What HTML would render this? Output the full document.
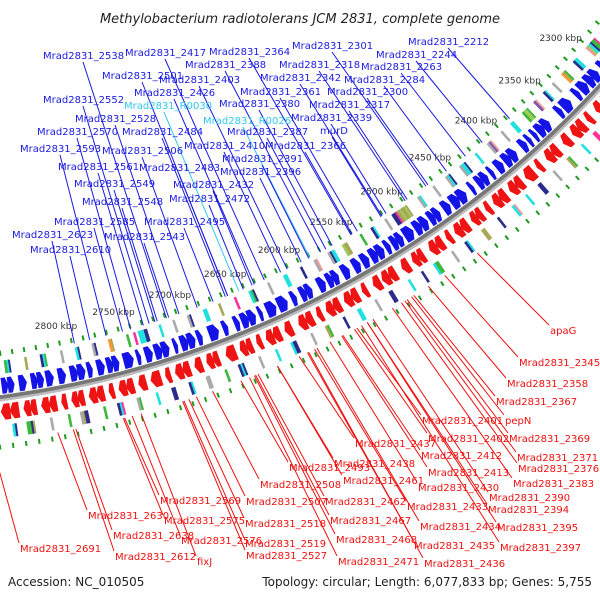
<!DOCTYPE html>
<html><head><meta charset="utf-8"><style>
html,body{margin:0;padding:0;background:#fff;}
svg{display:block;font-family:"DejaVu Sans","Liberation Sans",sans-serif;}
</style></head><body>
<svg id="map" width="600" height="600" viewBox="0 0 600 600">
<text x="300" y="23" text-anchor="middle" font-size="13" font-style="italic" fill="#222">Methylobacterium radiotolerans JCM 2831, complete genome</text>
<g id="rings"></g>
<g id="labels"></g>
<text x="8" y="586" font-size="12" fill="#222">Accession: NC_010505</text>
<text x="592" y="586" text-anchor="end" font-size="12" fill="#222">Topology: circular; Length: 6,077,833 bp; Genes: 5,755</text>
</svg>
<script>
const tickKbp = [2300,2350,2400,2450,2500,2550,2600,2650,2700,2750,2800];
const fwdGenes = [[2272,2282],[2283,2290],[2291,2296],[2300,2312],[2313,2320],[2322,2326],[2332,2340],[2342,2346],[2356,2368],[2370,2373],[2376,2379],[2381,2386],[2392,2404],[2406,2412],[2416,2419],[2422,2432],[2436,2439],[2444,2458],[2460,2466],[2470,2480],[2482,2494],[2496,2504],[2506,2516],[2518,2522],[2524,2536],[2538,2544],[2546,2552],[2556,2562],[2566,2576],[2578,2584],[2590,2600],[2604,2608],[2612,2620],[2622,2630],[2634,2637],[2640,2652],[2654,2658],[2664,2668],[2672,2680],[2686,2690],[2692,2704],[2707,2710],[2714,2726],[2728,2734],[2738,2741],[2744,2752],[2756,2766],[2768,2774],[2778,2782],[2784,2796],[2800,2806],[2810,2816],[2818,2828],[2832,2838],[2842,2852],[2854,2862]];
const revGenes = [[2268,2276],[2280,2292],[2296,2300],[2304,2316],[2318,2324],[2330,2334],[2338,2350],[2354,2360],[2366,2378],[2384,2388],[2392,2400],[2404,2416],[2420,2432],[2436,2440],[2444,2454],[2458,2470],[2474,2478],[2482,2494],[2500,2510],[2514,2520],[2526,2538],[2540,2546],[2552,2556],[2560,2572],[2576,2588],[2592,2596],[2600,2612],[2618,2624],[2628,2640],[2644,2648],[2652,2662],[2666,2674],[2680,2690],[2694,2700],[2704,2716],[2720,2724],[2728,2736],[2740,2746],[2750,2762],[2766,2770],[2774,2786],[2790,2800],[2804,2808],[2812,2824],[2828,2838],[2842,2856]];
const fwdCog = [[2282,"pggnc"],[2290,"ls"],[2304,"ccn"],[2318,"gyo"],[2332,"a"],[2341,"cn"],[2352,"sx"],[2362,"gllg"],[2378,"cc"],[2390,"a"],[2402,"sxa"],[2418,"c"],[2430,"ncca"],[2446,"nca"],[2462,"a"],[2476,"ca"],[2490,"ylyylyy"],[2500,"pnn"],[2510,"a"],[2522,"cn"],[2534,"g"],[2548,"yyl"],[2560,"ccna"],[2576,"sa"],[2590,"n"],[2604,"cc"],[2620,"a"],[2634,"ngc"],[2650,"p"],[2664,"y"],[2676,"cc"],[2690,"na"],[2704,"a"],[2716,"c"],[2728,"nnccc"],[2738,"p"],[2744,"g"],[2758,"yo"],[2772,"na"],[2786,"nc"],[2800,"a"],[2814,"gcn"],[2830,"y"],[2844,"ncg"]];
const revCog = [[2275,"ggg"],[2288,"yl"],[2298,"s"],[2310,"ppa"],[2326,"n"],[2336,"pp"],[2350,"c"],[2364,"gy"],[2380,"a"],[2394,"nn"],[2408,"c"],[2420,"sc"],[2436,"n"],[2450,"yy"],[2466,"cn"],[2480,"a"],[2494,"ggc"],[2508,"n"],[2520,"c"],[2536,"nn"],[2550,"a"],[2564,"cc"],[2578,"n"],[2592,"gy"],[2606,"a"],[2620,"nnc"],[2636,"c"],[2650,"a"],[2664,"ncn"],[2678,"g"],[2692,"aa"],[2706,"cn"],[2720,"nn"],[2734,"c"],[2748,"ga"],[2762,"pcn"],[2776,"g"],[2790,"nnya"],[2804,"g"],[2818,"a"],[2832,"yngg"],[2846,"nc"]];
const blueNames = ["Mrad2831_2538","Mrad2831_2417","Mrad2831_2364","Mrad2831_2301","Mrad2831_2212","Mrad2831_2244","Mrad2831_2388","Mrad2831_2318","Mrad2831_2263","Mrad2831_2501","Mrad2831_2403","Mrad2831_2342","Mrad2831_2284","Mrad2831_2426","Mrad2831_2361","Mrad2831_2300","Mrad2831_2552","Mrad2831_R0030","Mrad2831_2380","Mrad2831_2317","Mrad2831_2528","Mrad2831_R0026","Mrad2831_2339","Mrad2831_2570","Mrad2831_2484","Mrad2831_2387","murD","Mrad2831_2593","Mrad2831_2506","Mrad2831_2410","Mrad2831_2366","Mrad2831_2561","Mrad2831_2483","Mrad2831_2391","Mrad2831_2396","Mrad2831_2549","Mrad2831_2432","Mrad2831_2548","Mrad2831_2472","Mrad2831_2585","Mrad2831_2495","Mrad2831_2623","Mrad2831_2543","Mrad2831_2610"];
const blueKbp = [2709,2622,2541,2467,2378,2408,2570,2488,2426,2655,2601,2511,2446,2631,2535,2465,2724,2645,2559,2486,2698,2580,2507,2740,2657,2565,2512,2761,2682,2607,2540,2729,2655,2581,2588,2719,2633,2717,2641,2747,2668,2788,2707,2775];
const blueX = [43,125,209,292,408,376,185,279,361,102,159,260,344,134,240,327,43,124,219,309,75,203,291,37,122,227,320,20,102,184,265,58,139,222,220,74,173,82,169,54,144,12,104,30];
const blueY = [59,56,55,49,45,58,68,68,70,79,83,81,83,96,95,95,103,109,107,108,122,124,121,135,135,135,134,152,154,149,149,170,171,162,175,187,188,205,202,225,225,238,240,253];
const redNames = ["apaG","Mrad2831_2345","Mrad2831_2358","Mrad2831_2367","Mrad2831_2401","pepN","Mrad2831_2402","Mrad2831_2369","Mrad2831_2437","Mrad2831_2412","Mrad2831_2371","Mrad2831_2438","Mrad2831_2376","Mrad2831_2493","Mrad2831_2413","Mrad2831_2461","Mrad2831_2383","Mrad2831_2508","Mrad2831_2430","Mrad2831_2390","Mrad2831_2569","Mrad2831_2507","Mrad2831_2462","Mrad2831_2433","Mrad2831_2394","Mrad2831_2630","Mrad2831_2575","Mrad2831_2518","Mrad2831_2467","Mrad2831_2434","Mrad2831_2395","Mrad2831_2638","Mrad2831_2576","Mrad2831_2519","Mrad2831_2468","Mrad2831_2435","Mrad2831_2397","Mrad2831_2691","Mrad2831_2612","fixJ","Mrad2831_2527","Mrad2831_2471","Mrad2831_2436"];
const redKbp = [2465,2495,2510,2523,2573,2525,2575,2529,2622,2585,2531,2640,2534,2670,2586,2640,2542,2693,2596,2559,2763,2706,2656,2609,2564,2815,2764,2712,2658,2607,2564,2801,2757,2716,2659,2615,2569,2866,2803,2750,2717,2663,2614];
const redX = [550,519,507,496,422,505,428,509,355,421,517,334,518,289,428,343,513,260,418,489,160,246,325,407,488,88,164,245,330,420,497,113,181,245,336,414,500,20,115,197,246,338,424];
const redY = [334,366,387,405,424,424,442,442,447,459,461,467,472,471,476,484,487,488,491,501,504,505,505,510,513,519,524,527,524,530,531,539,544,547,543,549,551,552,560,565,559,565,567];

const NS="http://www.w3.org/2000/svg";
const CX=-132, CY=-590, A0=42.2, DEG=0.0724;
function ang(k){return (A0+(k-2300)*DEG)*Math.PI/180;}
function pt(k,r){const a=ang(k);return [CX+r*Math.cos(a),CY+r*Math.sin(a)];}
function P(p){return p[0].toFixed(1)+","+p[1].toFixed(1);}
const rings=document.getElementById('rings');
const labels=document.getElementById('labels');
const col={n:"#2b2b8c",c:"#22e0e0",g:"#3cb83c",l:"#9ccc5a",y:"#a8a858",o:"#ff9a33",p:"#ff3399",s:"#f09a9a",a:"#aaaaaa",x:"#7a55b0"};

function arrow(k1,k2,r0,r1,fwd,fill,name){
  const hk=Math.min(3,(k2-k1)*0.4), rm=(r0+r1)/2, pts=[];
  if(fwd){
    pts.push(pt(k1,rm));
    for(let k=k1+hk;k<k2;k+=1)pts.push(pt(k,r0));
    pts.push(pt(k2,r0));pts.push(pt(k2,r1));
    for(let k=k2;k>k1+hk;k-=1)pts.push(pt(k,r1));
    pts.push(pt(k1+hk,r1));
  } else {
    pts.push(pt(k2,rm));
    for(let k=k2-hk;k>k1;k-=1)pts.push(pt(k,r0));
    pts.push(pt(k1,r0));pts.push(pt(k1,r1));
    for(let k=k1;k<k2-hk;k+=1)pts.push(pt(k,r1));
    pts.push(pt(k2-hk,r1));
  }
  const e=document.createElementNS(NS,'polygon');
  e.setAttribute('points',pts.map(P).join(' '));
  e.setAttribute('fill',fill);
  
  
  rings.appendChild(e);
}
function bar(k,r0,r1,color,w,name){
  const e=document.createElementNS(NS,'line');
  const a=pt(k,r0),b=pt(k,r1);
  e.setAttribute('x1',a[0]);e.setAttribute('y1',a[1]);e.setAttribute('x2',b[0]);e.setAttribute('y2',b[1]);
  e.setAttribute('stroke',color);e.setAttribute('stroke-width',w);
  
  
  rings.appendChild(e);
}
for(let k=2270;k<=2870;k+=10){bar(k,950,955,"#1f9a1f",2,'tick-mark');bar(k,1043,1048,"#1f9a1f",2,'tick-mark');}
fwdCog.forEach(c=>{[...c[1]].forEach((ch,i)=>bar(c[0]+i*1.5,960,973,col[ch],2.6,'cog-block-forward'));});
revCog.forEach(c=>{[...c[1]].forEach((ch,i)=>bar(c[0]+i*1.5,1024,1037,col[ch],2.6,'cog-block-reverse'));});
fwdGenes.forEach(g=>{const n=Math.max(1,Math.round((g[1]-g[0])/6)),s=(g[1]-g[0])/n;
  for(let i=0;i<n;i++)arrow(g[0]+i*s,g[0]+(i+1)*s+0.6,977,993,true,"#1414e6",'forward-gene');});
revGenes.forEach(g=>{const n=Math.max(1,Math.round((g[1]-g[0])/6)),s=(g[1]-g[0])/n;
  for(let i=0;i<n;i++)arrow(g[0]+i*s-0.6,g[0]+(i+1)*s,1003,1019,false,"#ee1414",'reverse-gene');});
function arcPath(r){let d="";for(let k=2250;k<=2880;k+=5){d+=(d?"L":"M")+P(pt(k,r));}return d;}
[[997,6,"#777"],[999,2.5,"#bbb"]].forEach(s=>{const e=document.createElementNS(NS,'path');
  e.setAttribute('d',arcPath(s[0]));e.setAttribute('fill','none');e.setAttribute('stroke',s[2]);e.setAttribute('stroke-width',s[1]);
  
  
  rings.appendChild(e);});
tickKbp.forEach(k=>{const p=pt(k,935);const t=document.createElementNS(NS,'text');
  t.setAttribute('x',p[0]);t.setAttribute('y',p[1]+3);t.setAttribute('text-anchor','middle');t.setAttribute('font-size','9');t.setAttribute('fill','#333');
  t.textContent=k+" kbp";
  
  
  rings.appendChild(t);});
function line(x1,y1,x2,y2,c,name){const e=document.createElementNS(NS,'line');
  e.setAttribute('x1',x1);e.setAttribute('y1',y1);e.setAttribute('x2',x2);e.setAttribute('y2',y2);e.setAttribute('stroke',c);e.setAttribute('stroke-width','1');
  
  
  labels.appendChild(e);}
function label(x,y,s,c,name){const t=document.createElementNS(NS,'text');
  t.setAttribute('x',x);t.setAttribute('y',y);t.setAttribute('font-size','10');t.setAttribute('fill',c);t.textContent=s;
  
  
  labels.appendChild(t);}
blueNames.forEach((n,i)=>{const c=n.indexOf('R00')>=0?"#33c8ee":"#1a1ae0";const e=pt(blueKbp[i],956);
  line(blueX[i]+(n.length>5?40:12),blueY[i]+3,e[0],e[1],c,'forward-label-line');});
redNames.forEach((n,i)=>{const s=pt(redKbp[i],1040);line(s[0],s[1],redX[i]-1,redY[i]-9,"#ee1010",'reverse-label-line');});
blueNames.forEach((n,i)=>{const c=n.indexOf('R00')>=0?"#33c8ee":"#1a1ae0";label(blueX[i],blueY[i],n,c,'forward-gene-label');});
redNames.forEach((n,i)=>label(redX[i],redY[i],n,"#ee1010",'reverse-gene-label'));
</script>
</body></html>
